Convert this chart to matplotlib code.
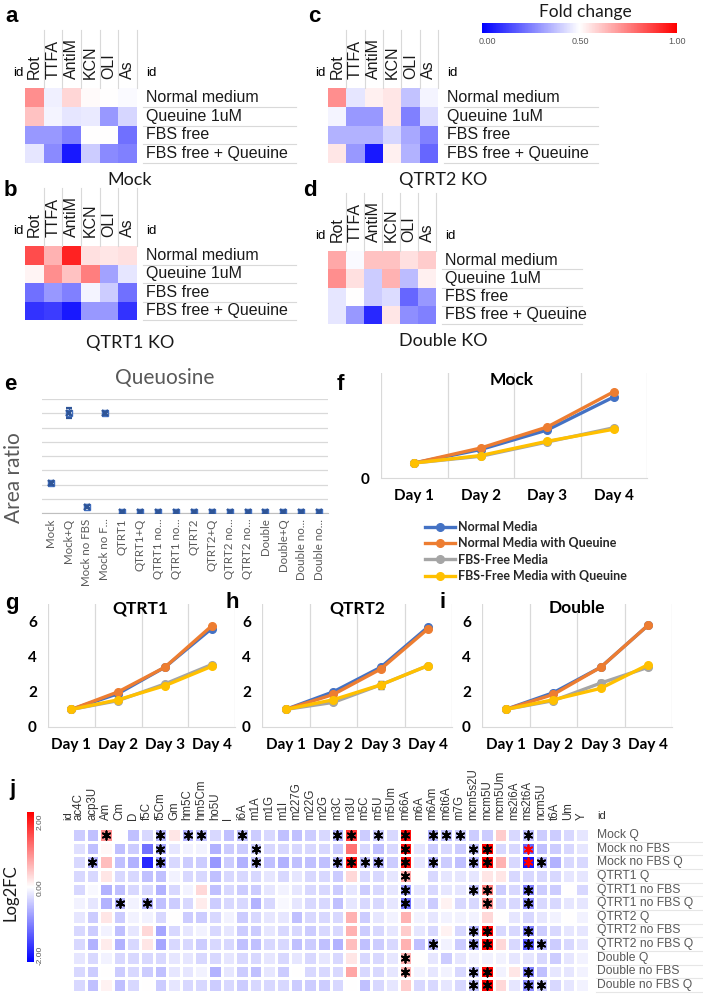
import numpy as np
import matplotlib
matplotlib.use("Agg")
import matplotlib.pyplot as plt
from matplotlib.cm import ScalarMappable
from matplotlib.colors import Normalize

# ---------------- data ----------------
inhibitors = ["Rot", "TTFA", "AntiM", "KCN", "OLI", "As"]
conditions = ["Normal medium", "Queuine 1uM", "FBS free", "FBS free + Queuine"]

mock_fc = [[0.72, 0.47, 0.58, 0.51, 0.50, 0.49],
           [0.62, 0.48, 0.45, 0.46, 0.30, 0.42],
           [0.30, 0.30, 0.25, 0.50, 0.50, 0.22],
           [0.45, 0.27, 0.05, 0.40, 0.27, 0.25]]
qtrt1_fc = [[0.85, 0.65, 0.93, 0.56, 0.55, 0.56],
            [0.52, 0.72, 0.62, 0.75, 0.32, 0.45],
            [0.22, 0.30, 0.25, 0.48, 0.40, 0.22],
            [0.10, 0.12, 0.05, 0.30, 0.30, 0.10]]
qtrt2_fc = [[0.72, 0.45, 0.53, 0.55, 0.38, 0.48],
            [0.48, 0.30, 0.30, 0.55, 0.25, 0.43],
            [0.35, 0.35, 0.35, 0.42, 0.33, 0.25],
            [0.55, 0.30, 0.05, 0.53, 0.35, 0.20]]
double_fc = [[0.67, 0.49, 0.62, 0.62, 0.56, 0.60],
             [0.72, 0.56, 0.40, 0.65, 0.37, 0.53],
             [0.45, 0.50, 0.40, 0.43, 0.20, 0.30],
             [0.45, 0.30, 0.08, 0.55, 0.28, 0.25]]

queuosine_samples = ["Mock", "Mock+Q", "Mock no FBS", "Mock no F...", "QTRT1", "QTRT1+Q",
                     "QTRT1 no...", "QTRT1 no...", "QTRT2", "QTRT2+Q", "QTRT2 no...",
                     "QTRT2 no...", "Double", "Double+Q", "Double no...", "Double no..."]
queuosine_ratio = [2.1, 7.0, 0.45, 7.0, 0.1, 0.1, 0.1, 0.1, 0.1, 0.1, 0.1, 0.1, 0.1, 0.1, 0.1, 0.1]
queuosine_err = [0.1, 0.35, 0.1, 0.1, 0.05, 0.05, 0.05, 0.05, 0.05, 0.05, 0.05, 0.05, 0.05, 0.05, 0.05, 0.05]

days = ["Day 1", "Day 2", "Day 3", "Day 4"]
series_names = ["Normal Media", "Normal Media with Queuine", "FBS-Free Media", "FBS-Free Media with Queuine"]
growth_mock = [[1.0, 1.9, 3.2, 5.4], [1.0, 2.0, 3.4, 5.75], [1.0, 1.45, 2.4, 3.35], [1.0, 1.5, 2.45, 3.25]]
growth_qtrt1 = [[1.0, 1.9, 3.4, 5.6], [1.0, 2.0, 3.4, 5.75], [1.0, 1.5, 2.45, 3.55], [1.0, 1.55, 2.35, 3.45]]
growth_qtrt2 = [[1.0, 2.0, 3.4, 5.7], [1.0, 1.85, 3.3, 5.6], [1.0, 1.4, 2.4, 3.5], [1.0, 1.55, 2.4, 3.5]]
growth_double = [[1.0, 1.95, 3.4, 5.8], [1.0, 1.85, 3.4, 5.8], [1.0, 1.5, 2.5, 3.4], [1.0, 1.55, 2.2, 3.55]]
growth_gray_err_mock = [0, 0.05, 0.05, 0.08]
growth_gray_err_qtrt1 = [0, 0.05, 0.08, 0.1]
growth_gray_err_qtrt2 = [0, 0.05, 0.22, 0.08]
growth_gray_err_double = [0, 0.05, 0.2, 0.08]

modifications = ["ac4C", "acp3U", "Am", "Cm", "D", "f5C", "f5Cm", "Gm", "hm5C", "hm5Cm", "ho5U", "I",
                 "i6A", "m1A", "m1G", "m1I", "m227G", "m22G", "m2G", "m3C", "m3U", "m5C", "m5U", "m5Um",
                 "m66A", "m6A", "m6Am", "m6t6A", "m7G", "mcm5s2U", "mcm5U", "mcm5Um", "ms2i6A", "ms2t6A",
                 "ncm5U", "t6A", "Um", "Y"]
samples_j = ["Mock Q", "Mock no FBS", "Mock no FBS Q", "QTRT1 Q", "QTRT1 no FBS", "QTRT1 no FBS Q",
             "QTRT2 Q", "QTRT2 no FBS", "QTRT2 no FBS Q", "Double Q", "Double no FBS", "Double no FBS Q"]
log2fc = [
    [-0.4, -0.5, 0.9, 0.0, -0.5, -0.3, -0.6, 0.2, -0.6, -0.5, -0.3, -0.5, -0.5, -0.4, -0.3, -0.5, -0.5, -0.4, -0.3,
     -0.6, 1.6, -0.4, -0.4, -0.3, 1.9, 0.0, -0.6, -0.5, -0.4, -0.4, -0.4, 0.4, -0.3, -0.5, -0.4, -0.4, -0.3, -0.2],
    [-0.25, -0.5, 0.05, -0.5, -0.4, -1.1, -0.7, -0.2, -0.1, -0.1, -0.6, -0.4, -0.4, -0.4, -0.3, -0.3, -0.3, -0.3, -0.3,
     -0.4, 1.1, -0.3, -0.5, -0.3, 1.9, -0.2, -0.4, -0.3, -0.4, -0.5, 2.0, -0.3, -0.3, -1.2, -0.5, -0.4, -0.3, -0.2],
    [-0.3, -0.6, 0.5, -0.5, -0.6, -1.7, -0.8, -0.3, -0.4, -0.4, -0.8, -0.4, -0.6, -0.5, -0.5, -0.6, -0.5, -0.5, -0.5,
     -0.6, 1.9, -0.5, -0.6, -0.4, 1.9, -0.2, -0.6, -0.4, -0.5, -0.6, 2.0, 0.6, -0.3, -1.8, -0.6, -0.6, -0.3, -0.3],
    [-0.3, -0.3, 0.2, -0.3, -0.3, -0.5, -0.5, -0.1, -0.3, -0.3, -0.5, -0.3, -0.3, -0.3, -0.2, -0.3, -0.2, -0.3, -0.3,
     -0.4, 0.3, -0.3, -0.3, -0.2, 0.7, 0.0, -0.3, -0.2, -0.2, -0.2, 0.2, 0.2, -0.3, -0.3, -0.3, -0.3, -0.2, -0.2],
    [-0.3, -0.05, -0.6, -0.5, -0.3, -0.3, -0.6, -0.3, -0.1, 0.3, -0.5, -0.3, -0.4, -0.4, -0.2, -0.1, -0.2, -0.3, -0.3,
     -0.4, -0.2, -0.4, -0.3, -0.2, -0.8, -0.2, -0.3, -0.2, -0.2, -0.5, 1.0, -0.4, -0.3, -1.0, -0.4, -0.4, 0.0, -0.3],
    [-0.1, -0.2, -0.6, -0.6, -0.1, -0.6, -0.5, -0.4, -0.3, 0.15, -0.4, -0.3, -0.3, -0.6, -0.3, -0.05, -0.2, -0.3, -0.3,
     -0.5, -0.2, -0.3, -0.3, -0.2, -1.1, -0.2, -0.4, 0.1, -0.3, -0.3, 0.9, -0.3, -0.3, -0.9, -0.3, -0.3, -0.2, -0.2],
    [-0.2, -0.4, 0.2, -0.4, -0.1, -0.1, -0.3, 0.0, -0.4, -0.4, -0.3, -0.1, -0.4, -0.3, -0.2, -0.2, -0.5, -0.3, -0.3,
     -0.3, 0.6, -0.4, -0.2, -0.1, 0.6, -0.1, -0.2, -0.1, -0.1, -0.1, 0.3, 0.0, -0.2, -0.3, -0.2, -0.1, 0.0, -0.1],
    [-0.3, -0.4, -0.1, -0.5, -0.2, 0.3, -0.7, -0.3, -0.2, -0.1, -0.3, -0.2, -0.4, -0.4, -0.2, -0.3, -0.3, -0.4, -0.3,
     -0.3, 0.6, -0.4, -0.3, -0.2, 0.4, -0.2, -0.3, 0.1, -0.3, -0.6, 2.0, -0.3, -0.3, -1.0, -0.4, -0.3, -0.2, -0.2],
    [-0.3, -0.6, 0.15, -0.6, -0.3, 0.2, -0.7, -0.3, -0.3, -0.4, -0.3, -0.3, -0.5, -0.5, -0.3, -0.3, -0.5, -0.4, -0.5,
     -0.6, 0.5, -0.5, -0.4, -0.3, 0.6, -0.5, -0.6, -0.1, -0.4, -0.7, 2.0, 0.3, -0.3, -1.3, -0.6, -0.4, -0.3, -0.2],
    [-0.2, -0.3, -0.1, -0.3, -0.3, -0.3, -0.3, -0.2, -0.2, -0.3, -0.3, -0.2, -0.3, -0.3, -0.2, -0.3, -0.2, -0.3, -0.2,
     -0.3, 0.2, -0.3, -0.3, -0.2, 0.6, 0.0, -0.2, -0.4, -0.2, -0.1, -0.1, -0.1, -0.2, -0.2, -0.3, -0.4, -0.2, -0.1],
    [-0.3, -0.4, 0.0, -0.4, -0.3, -0.4, -0.5, -0.2, -0.2, -0.1, -0.6, -0.2, -0.4, -0.5, -0.2, -0.4, 0.0, -0.3, -0.3,
     -0.3, 0.7, -0.3, -0.3, -0.2, 0.6, -0.1, -0.2, -0.1, -0.3, -0.5, 2.0, -0.1, 0.2, -1.0, -0.5, -0.2, -0.2, -0.1],
    [-0.3, -0.5, 0.1, -0.5, -0.3, 0.0, -0.4, -0.2, -0.3, -0.3, -0.4, -0.3, -0.4, -0.3, -0.3, -0.3, -0.4, -0.4, -0.4,
     -0.3, 0.0, -0.5, -0.3, -0.2, 0.4, -0.3, -0.3, -0.2, -0.3, -0.5, 2.0, 0.3, -0.2, -0.9, -0.4, -0.3, -0.2, -0.1],
]
# significance marks: (row, modification)
sig_black = [(0, "Am"), (0, "f5Cm"), (0, "hm5C"), (0, "hm5Cm"), (0, "i6A"), (0, "m3C"), (0, "m3U"), (0, "m5U"),
             (0, "m66A"), (0, "m6Am"), (0, "m6t6A"), (0, "m7G"), (0, "ms2t6A"),
             (1, "f5Cm"), (1, "m1A"), (1, "m66A"), (1, "mcm5s2U"), (1, "mcm5U"),
             (2, "acp3U"), (2, "f5Cm"), (2, "m1A"), (2, "m3C"), (2, "m3U"), (2, "m5C"), (2, "m5U"), (2, "m66A"),
             (2, "m6Am"), (2, "mcm5s2U"), (2, "mcm5U"), (2, "ncm5U"),
             (3, "m66A"),
             (4, "m66A"), (4, "mcm5s2U"), (4, "mcm5U"), (4, "ms2t6A"),
             (5, "Cm"), (5, "f5C"), (5, "m66A"), (5, "mcm5U"), (5, "ms2t6A"),
             (7, "mcm5s2U"), (7, "mcm5U"), (7, "ms2t6A"),
             (8, "m6Am"), (8, "mcm5s2U"), (8, "mcm5U"), (8, "ms2t6A"), (8, "ncm5U"),
             (9, "m66A"),
             (10, "m66A"), (10, "mcm5s2U"), (10, "mcm5U"), (10, "ms2t6A"),
             (11, "mcm5s2U"), (11, "mcm5U"), (11, "ms2t6A"), (11, "ncm5U")]
sig_red = [(1, "ms2t6A"), (2, "ms2t6A")]

# ---------------- figure ----------------
W, H = 703, 1000
fig = plt.figure(figsize=(W / 100, H / 100), dpi=100)
ARIAL = ["Liberation Sans", "DejaVu Sans"]
CALIBRI = ["Lato", "DejaVu Sans"]


def rect(x0, y0, x1, y1):
    return [x0 / W, 1 - y1 / H, (x1 - x0) / W, (y1 - y0) / H]


def ftxt(x, y, s, **kw):
    fig.text(x / W, 1 - y / H, s, **kw)


def small_heat(data, x0, y0, x1, y1, line_end, title, tx, ty):
    ax = fig.add_axes(rect(x0, y0, x1, y1))
    ax.pcolormesh(np.array(data), cmap="bwr", vmin=0, vmax=1)
    ax.set_xlim(0, 6)
    ax.set_ylim(4, 0)
    ax.axis("off")
    cw = (x1 - x0) / 6.0
    rh = (y1 - y0) / 4.0
    for j, name in enumerate(inhibitors):
        ax.text(j + 0.5, -9.5 / rh, name, rotation=90, ha="center", va="bottom",
                fontsize=11.5, family=ARIAL, color="#1a1a1a")
        ax.plot([j + 1, j + 1], [0, -58 / rh], color="#d9d9d9", lw=0.8, clip_on=False)
    ax.text(-2 / cw, -9.5 / rh, "id", ha="right", va="bottom", fontsize=9.5, family=ARIAL)
    lx = 6 + 9 / cw
    ax.text(lx, -9.5 / rh, "id", ha="left", va="bottom", fontsize=9.5, family=ARIAL)
    for i, c in enumerate(conditions):
        ax.text(lx, i + 0.5, c, ha="left", va="center", fontsize=11.5, family=ARIAL, color="#1a1a1a")
        ax.plot([6 + 6 / cw, 6 + (line_end - x1) / cw], [i + 1, i + 1], color="#d9d9d9", lw=0.8,
                clip_on=False)
    ftxt(tx, ty, title, ha="center", va="center", fontsize=13, family=CALIBRI, color="#1a1a1a")


small_heat(mock_fc, 25, 88, 137, 163, 296, "Mock", 130, 180)
small_heat(qtrt1_fc, 25, 246, 137, 320, 296, "QTRT1 KO", 130, 343)
small_heat(qtrt2_fc, 328, 88, 438, 163, 598, "QTRT2 KO", 443, 180)
small_heat(double_fc, 328, 251, 436, 324, 582, "Double KO", 443, 341)

# fold change colorbar
cax = fig.add_axes(rect(482, 23, 677, 33))
fig.colorbar(ScalarMappable(norm=Normalize(0, 1), cmap="bwr"), cax=cax, orientation="horizontal")
cax.set_xticks([])
cax.tick_params(length=0)
for s in cax.spines.values():
    s.set_visible(False)
ftxt(585, 12, "Fold change", ha="center", va="center", fontsize=12.5, family=CALIBRI, color="#1a1a1a")
for xv, lab in [(487, "0.00"), (580, "0.50"), (677, "1.00")]:
    ftxt(xv, 42, lab, ha="center", va="center", fontsize=6.5, color="#595959", family=ARIAL)

# panel letters
for lab, x, y in [("a", 12, 17), ("c", 314, 17), ("b", 10, 190), ("d", 310, 190), ("e", 10, 385),
                  ("f", 340, 385), ("g", 12, 603), ("h", 232, 603), ("i", 443, 603), ("j", 12, 790)]:
    ftxt(x, y, lab, ha="center", va="center", fontsize=16, fontweight="bold", family=ARIAL)

# ---------------- panel e ----------------
axe = fig.add_axes(rect(42, 399, 328, 513))
xe = np.arange(len(queuosine_samples))
axe.errorbar(xe, queuosine_ratio, yerr=queuosine_err, fmt="x", color="#2F5597", ms=5, mew=1.6,
             capsize=2.5, elinewidth=1, zorder=3)
axe.plot(xe, queuosine_ratio, "s", mfc="none", mec="#4472C4", ms=5, mew=1, zorder=3)
axe.set_xlim(-0.5, len(queuosine_samples) - 0.5)
axe.set_ylim(0, 8)
axe.set_yticks(np.arange(0, 9, 1))
axe.set_yticklabels([])
axe.grid(axis="y", color="#d9d9d9", lw=0.9)
axe.set_axisbelow(True)
axe.set_xticks(xe)
axe.set_xticklabels(queuosine_samples, rotation=90, fontsize=8.3, color="#595959", family=CALIBRI)
axe.tick_params(length=0, pad=4)
for s in ["top", "right", "left"]:
    axe.spines[s].set_visible(False)
axe.spines["bottom"].set_color("#bfbfbf")
ftxt(165, 378, "Queuosine", ha="center", va="center", fontsize=15, color="#595959", family=CALIBRI)
ftxt(14, 478, "Area ratio", ha="center", va="center", rotation=90, fontsize=15, color="#595959",
     family=CALIBRI)

# ---------------- growth panels ----------------
colors = ["#4472C4", "#ED7D31", "#A5A5A5", "#FFC000"]


def growth(box, data, gerr, title, tx, ty, yt):
    ax = fig.add_axes(rect(*box))
    xs = np.arange(len(days))
    handles = []
    for k, (vals, col) in enumerate(zip(data, colors)):
        if k == 2:
            ax.errorbar(xs, vals, yerr=gerr, fmt="none", ecolor="#595959", elinewidth=1, capsize=2, zorder=2)
        h, = ax.plot(xs, vals, "-o", color=col, lw=2.4, ms=5.5, zorder=3 + k)
        handles.append(h)
    ax.set_xlim(-0.5, 3.5)
    ax.set_ylim(0, 7)
    ax.set_xticks(xs)
    ax.set_xticklabels(days, fontsize=11, fontweight="bold", family=CALIBRI)
    ax.set_yticks(yt)
    ax.set_yticklabels([str(v) for v in yt], fontsize=11, fontweight="bold", family=CALIBRI)
    ax.set_xticks(np.arange(-0.5, 4, 1), minor=True)
    ax.grid(which="minor", axis="x", color="#d9d9d9", lw=0.9)
    ax.tick_params(which="both", length=0, pad=8)
    for s in ["top", "right", "left"]:
        ax.spines[s].set_visible(False)
    ax.spines["bottom"].set_color("#d9d9d9")
    ftxt(tx, ty, title, ha="center", va="center", fontsize=12.5, fontweight="bold", family=CALIBRI)
    return handles


hs = growth((381, 373, 647, 478), growth_mock, growth_gray_err_mock, "Mock", 512, 380, [0])
growth((48, 604, 235, 727), growth_qtrt1, growth_gray_err_qtrt1, "QTRT1", 140, 608, [0, 2, 4, 6])
growth((262, 604, 452, 727), growth_qtrt2, growth_gray_err_qtrt2, "QTRT2", 357, 608, [0, 2, 4, 6])
growth((482, 604, 672, 727), growth_double, growth_gray_err_double, "Double", 577, 608, [0, 2, 4, 6])
fig.legend(hs, series_names, loc="upper left", bbox_to_anchor=(420 / W, 1 - 516 / H), frameon=False,
           prop={"family": CALIBRI, "weight": "bold", "size": 9}, handlelength=2.4, labelspacing=0.35,
           handletextpad=0.2, borderaxespad=0, labelcolor="#262626")

# ---------------- panel j ----------------
axj = fig.add_axes(rect(72, 828, 589, 992))
M = np.array(log2fc)
axj.pcolormesh(M, cmap="bwr", vmin=-2, vmax=2, edgecolors="white", linewidth=1.0)
axj.set_xlim(0, len(modifications))
axj.set_ylim(len(samples_j), 0)
axj.axis("off")
cwj = (589 - 72) / len(modifications)
for j, name in enumerate(modifications):
    axj.text(j + 0.5, -0.6, name, rotation=90, ha="center", va="bottom", fontsize=8.3, family=ARIAL,
             color="#333333")
axj.text(-0.3, -0.6, "id", rotation=90, ha="center", va="bottom", fontsize=8, family=ARIAL, color="#333333")
axj.text(len(modifications) + 0.6, -0.5, "id", ha="left", va="bottom", fontsize=8, family=ARIAL, color="#333333")
for i, s in enumerate(samples_j):
    axj.text(len(modifications) + 0.6, i + 0.5, s, ha="left", va="center", fontsize=8.7, family=ARIAL,
             color="#595959")
    axj.plot([len(modifications) + 0.5, len(modifications) + (703 - 589) / cwj], [i + 1, i + 1],
             color="#e6e6e6", lw=0.8, clip_on=False)
for (r, m) in sig_black:
    axj.scatter(modifications.index(m) + 0.5, r + 0.5, marker=(6, 2, 0), s=36, color="black", lw=1.3,
                zorder=4)
for (r, m) in sig_red:
    axj.scatter(modifications.index(m) + 0.5, r + 0.5, marker=(6, 2, 0), s=36, color="red", lw=1.3,
                zorder=5)

cbj = fig.add_axes(rect(27, 812, 34, 962))
fig.colorbar(ScalarMappable(norm=Normalize(-2, 2), cmap="bwr"), cax=cbj, orientation="vertical")
cbj.set_yticks([])
cbj.tick_params(length=0)
for s in cbj.spines.values():
    s.set_visible(False)
for yv, lab in [(822, "2.00"), (888, "0.00"), (955, "-2.00")]:
    ftxt(40, yv, lab, rotation=90, ha="center", va="center", fontsize=6, color="#595959", family=ARIAL)
ftxt(11, 893, "Log2FC", rotation=90, ha="center", va="center", fontsize=12, color="#1a1a1a", family=CALIBRI)

fig.savefig("out.png", dpi=100)
